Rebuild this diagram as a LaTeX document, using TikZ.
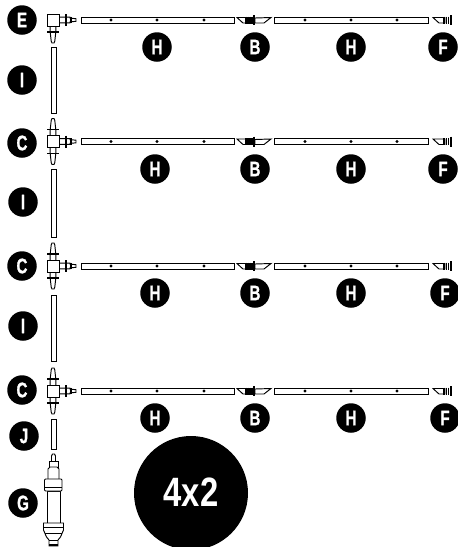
\documentclass[tikz,border=0pt]{standalone}
\usepackage{fontspec}
\newfontfamily\badgefont[FakeStretch=0.72,FakeBold=1.2]{Liberation Sans}
\newfontfamily\sizefont[FakeStretch=0.8]{Liberation Sans}
\usetikzlibrary{positioning}
\tikzset{
  part/.style={draw, line width=0.95pt, fill=white},
  rib/.style={line width=1.5pt},
  badge/.style={circle, fill=black, text=white, inner sep=0pt, minimum size=29.5pt,
                font=\badgefont\bfseries\fontsize{21}{21}\selectfont},
  bigbadge/.style={circle, fill=black, text=white, inner sep=0pt, minimum size=114pt,
                font=\sizefont\bfseries\fontsize{41}{41}\selectfont},
  pics/nozzle/.style={code={
    \draw[part] (-2.8,3) -- (-2.8,-3) -- (-1.8,-12) -- (-1,-14) -- (1,-14) -- (1.8,-12) -- (2.8,-3) -- (2.8,3);
    \draw[rib] (-6,-3) -- (6,-3);
  }},
  pics/branch/.style={code={
    \draw[part] (4,-2.8) -- (17,-2.8) -- (17,-1.9) -- (23,-1.3) -- (23,1.3) -- (17,1.9) -- (17,2.8) -- (4,2.8);
    \draw[rib] (13,-6) -- (13,6);
    \draw[line width=1.1pt] (18,-3.2) -- (18,3.2);
  }},
  pics/coupler/.style={code={
    \draw[part] (0,-2.5) -- (10,-2.5) -- (10,3) -- (6,3) -- cycle;
    \draw[part] (34,-2.5) -- (18,-2) -- (18,3) -- (27,3) -- cycle;
    \foreach \ribx in {9,11,13,15}
      \draw[line width=1.2pt] (\ribx,-3.5) -- (\ribx,3.5);
    \draw[rib] (17,-5) -- (17,5);
  }},
  pics/endcap/.style={code={
    \draw[part] (0,-2.5) -- (12,-2.5) -- (12,3) -- (6,3) -- cycle;
    \foreach \ribx in {11,13.2,15.4}
      \draw[line width=1.1pt] (\ribx,-3.5) -- (\ribx,3.8);
    \draw[line width=1.1pt] (18,-5) -- (18,5);
  }}
}
\begin{document}
\begin{tikzpicture}[x=1pt, y=-1pt]
  \clip (0,0) rectangle (458,547);

  % rows of pipe
  \foreach \rowy in {20, 141.5, 266, 391} {
    \draw[part] (81,\rowy-3) rectangle (234,\rowy+3);
    \draw[part] (274,\rowy-3) rectangle (428,\rowy+3);
    \foreach \dotx in {111,157,204,305,351,397}
      \fill (\dotx,\rowy) circle (1.7);
    \pic at (237,\rowy) {coupler};
    \pic at (433,\rowy) {endcap};
    \pic at (53,\rowy) {branch};
    \pic at (53,\rowy+9) [yscale=-1] {nozzle};
    \draw[part] (47,\rowy-6) rectangle (59,\rowy+6);
  }
  \foreach \rowy in {141.5, 266, 391} {
    \pic at (53,\rowy-9) {nozzle};
    \draw[part] (47,\rowy-6) rectangle (59,\rowy+6);
  }

  % risers
  \draw[part] (51,47) rectangle (56,113);
  \draw[part] (51,169) rectangle (56,237);
  \draw[part] (51,295) rectangle (56,361);
  \draw[part] (51,419) rectangle (56,449);

  % regulator
  \draw[part] (51.5,467) -- (51.5,456) -- (52.5,454) -- (54.5,454) -- (55.5,456) -- (55.5,467);
  \draw[part] (49,461) rectangle (58,467);
  \draw[part] (48,479) -- (48,469) -- (50,467) -- (57,467) -- (59,469) -- (59,479);
  \draw[part] (47,491) rectangle (60,523);
  \draw[part, rounded corners=1pt] (44.5,479) rectangle (62,491);
  \draw (44.5,487) -- (62,487);
  \draw[part] (43.5,523) -- (43.5,530) -- (46.5,537) -- (49,540) -- (49,546) -- (58,546) -- (58,540) -- (60.5,537) -- (63.5,530) -- (63.5,523) -- cycle;
  \draw (43.5,527) -- (63.5,527) (45,533) -- (62,533) (49,540) -- (58,540);
  \draw[line width=2pt] (49,544.5) -- (58,544.5);

  % letters
  \node[badge] (e) at (22,20) {E};
  \node[badge] (i1) at (22,80) {I};
  \node[badge] (c1) at (22,143) {C};
  \node[badge] (i2) at (23,202) {I};
  \node[badge] (c2) at (22,266) {C};
  \node[badge] (i3) at (23,326) {I};
  \node[badge] (c3) at (22,390) {C};
  \node[badge] (j) at (24,436) {J};
  \node[badge] (g) at (23,503) {G};

  \node[badge] (h1) at (157,47) {H};
  \node[badge] (b1) at (255,47) {B};
  \node[badge] (k1) at (351,47) {H};
  \node[badge] (f1) at (443,47) {F};
  \node[badge] (h2) at (155,169) {H};
  \node[badge] (b2) at (255,169) {B};
  \node[badge] (k2) at (351,169) {H};
  \node[badge] (f2) at (443,169) {F};
  \node[badge] (h3) at (155,293) {H};
  \node[badge] (b3) at (255,293) {B};
  \node[badge] (k3) at (351,293) {H};
  \node[badge] (f3) at (445,293) {F};
  \node[badge] (h4) at (155,418) {H};
  \node[badge] (b4) at (255,418) {B};
  \node[badge] (k4) at (351,418) {H};
  \node[badge] (f4) at (445,418) {F};

  \node[bigbadge] (size) at (191,493) {\raisebox{2pt}{4x2}};
\end{tikzpicture}
\end{document}
